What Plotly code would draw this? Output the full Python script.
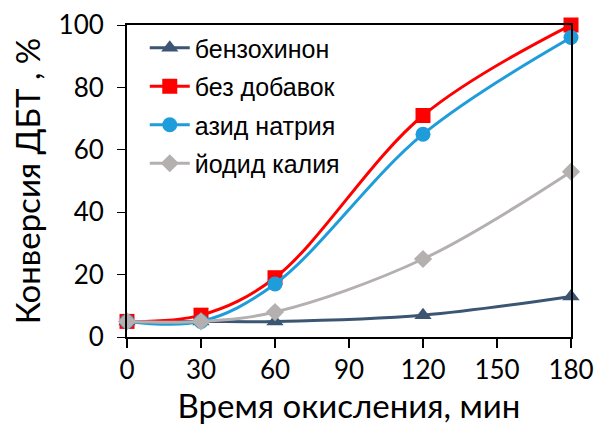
import plotly.graph_objects as go

time_min = [0, 30, 60, 120, 180]
benzoquinone = [5, 5, 5, 7, 13]
no_additive = [5, 7, 19, 71, 100]
sodium_azide = [5, 5, 17, 65, 96]
potassium_iodide = [5, 5, 8, 25, 53]

names = ["бензохинон", "без добавок", "азид натрия", "йодид калия"]
series = [benzoquinone, no_additive, sodium_azide, potassium_iodide]
colors = ["#3B5573", "#FF0000", "#1E9DDA", "#B4B0AF"]
symbols = ["triangle-up", "square", "circle", "diamond"]
sizes = [15, 15, 15, 14]

fig = go.Figure()
for i, (n, s) in enumerate(zip(names, series)):
    fig.add_trace(go.Scatter(
        x=time_min, y=s, name=n, mode="lines+markers",
        line=dict(color=colors[i], width=3, shape="spline", smoothing=1.0),
        marker=dict(symbol=symbols[i], size=sizes[i], color=colors[i]),
        legendgroup=f"g{i}", cliponaxis=False,
    ))

fam = "Lato, Carlito, sans-serif"
fig.update_layout(
    width=595, height=425,
    margin=dict(l=127, r=24, t=25, b=88),
    paper_bgcolor="white", plot_bgcolor="white",
    showlegend=True,
    legend=dict(
        x=0.04, y=1.0, xanchor="left", yanchor="top",
        font=dict(family="Liberation Sans, Arial, sans-serif", size=25, color="#000000"),
        bgcolor="rgba(0,0,0,0)", traceorder="grouped", tracegroupgap=3,
        itemwidth=40,
    ),
    xaxis=dict(
        range=[0, 180], tickvals=[0, 30, 60, 90, 120, 150, 180],
        ticks="outside", ticklen=9, tickwidth=2, tickcolor="#000",
        showline=True, linecolor="#000", linewidth=2, mirror=True,
        showgrid=False, zeroline=False, automargin=False,
        tickfont=dict(family=fam, size=26, color="#000"),
        title=dict(text="Время окисления, мин", font=dict(family=fam, size=33, color="#000"), standoff=4),
    ),
    yaxis=dict(
        range=[0, 100], tickvals=[0, 20, 40, 60, 80, 100],
        ticks="outside", ticklen=8, tickwidth=1, tickcolor="#000",
        showline=True, linecolor="#000", linewidth=2, mirror=True,
        showgrid=False, zeroline=False, ticklabelstandoff=8, automargin=False,
        tickfont=dict(family=fam, size=26, color="#000"),
        title=dict(text="Конверсия ДБТ , %", font=dict(family=fam, size=33, color="#000"), standoff=8),
    ),
)

fig.write_html("out.html")
